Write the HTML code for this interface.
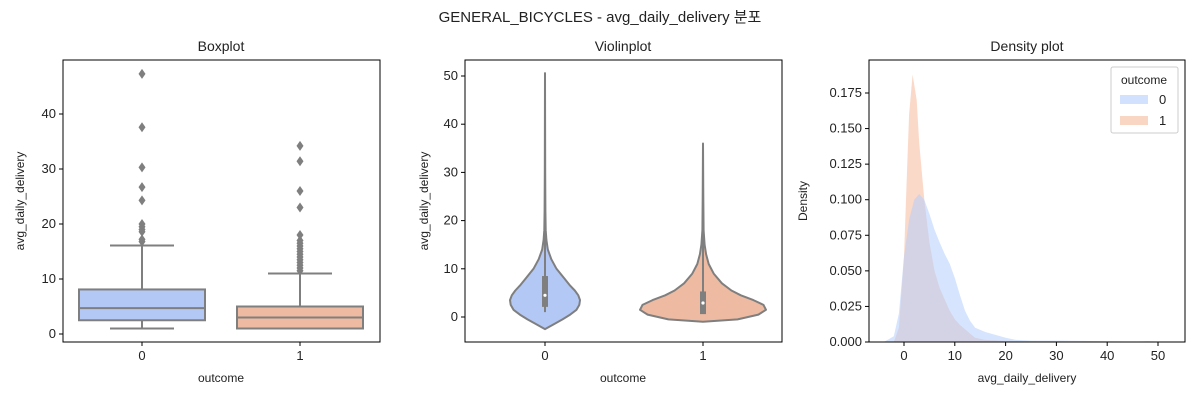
<!DOCTYPE html>
<html><head><meta charset="utf-8"><style>
html,body{margin:0;padding:0;background:#fff;}
svg{display:block;font-family:"Liberation Sans","Noto Sans CJK KR",sans-serif;}
</style></head><body>
<svg id="c" width="1200" height="400" viewBox="0 0 1200 400" xmlns="http://www.w3.org/2000/svg">
<text x="600" y="22" text-anchor="middle" font-size="15" fill="#222">GENERAL_BICYCLES - avg_daily_delivery 분포</text>
</svg>
<script>
// ---- Boxplot data ----
const boxCats = ["0","1"];
const boxQ1 = [2.5, 1.0];
const boxMed = [4.7, 3.0];
const boxQ3 = [8.1, 5.0];
const boxLo = [1.0, 1.0];
const boxHi = [16.1, 11.0];
const outliers0 = [16.8,17.2,18.6,19.0,19.5,20.0,24.3,26.7,30.3,37.6,47.3];
const outliers1 = [11.5,12,12.5,13,13.5,14,14.5,15,15.5,16,16.5,17,18,23,26,31.4,34.2];
const boxYTicks = [0,10,20,30,40];
// ---- Violin data ----
const violinVals0 = [-2.5,-1.5,-0.5,0.5,1.5,2.5,3.5,4.5,5.5,6.5,8,10,12,14,16,18,22,30,40,50.6];
const violinDens0 = [0,0.25,0.5,0.72,0.9,0.98,1.0,0.95,0.85,0.72,0.55,0.33,0.18,0.08,0.04,0.02,0.01,0.005,0.004,0];
const violinVals1 = [-1,-0.5,0.5,1.5,2.5,3.5,4.5,5.5,7,9,11,13,15,18,25,36];
const violinDens1 = [0,0.55,0.88,1.0,0.96,0.8,0.6,0.45,0.3,0.17,0.09,0.05,0.025,0.01,0.005,0];
const violinQ1 = [2.1, 0.6];
const violinQ3 = [8.5, 5.3];
const violinMed = [4.5, 2.9];
const violinLo = [1.0, 1.0];
const violinHi = [16.0, 11.0];
const violinYTicks = [0,10,20,30,40,50];
// ---- Density data ----
const densX0 = [-4,-2,-1,0,1,2,3,4,5,6,7,8,9,10,11,12,13,14,16,18,20,22,25,30,35,40,45,48,52];
const densY0 = [0,0.004,0.02,0.06,0.086,0.1,0.104,0.1,0.09,0.079,0.07,0.062,0.055,0.045,0.033,0.022,0.015,0.01,0.007,0.005,0.003,0.0015,0.001,0.001,0.0008,0.0005,0.0003,0.0005,0];
const densX1 = [-2,-1,0,0.5,1,1.7,2.5,3,4,5,6,7,8,9,10,11,12,13,14,16,20,30,36];
const densY1 = [0,0.01,0.06,0.11,0.16,0.188,0.17,0.14,0.1,0.07,0.05,0.038,0.03,0.022,0.016,0.012,0.009,0.006,0.003,0.0015,0.0008,0.0005,0];
const densXTicks = [0,10,20,30,40,50];
const densYTicks = [0,0.025,0.05,0.075,0.1,0.125,0.15,0.175];

const NS="http://www.w3.org/2000/svg";
const svg=document.getElementById('c');
function mk(tag,attrs,parent){const e=document.createElementNS(NS,tag);for(const k in attrs)e.setAttribute(k,attrs[k]);(parent||svg).appendChild(e);return e;}
function txt(x,y,s,attrs){const e=mk('text',Object.assign({x:x,y:y,'font-size':12,fill:'#222'},attrs||{}));e.textContent=s;return e;}
const GRAY="#7f7f7f";
const BLUE="#b3c8f4", ORANGE="#eebba2";

function axesFrame(x0,y0,x1,y1,name){
  const r=mk('rect',{x:x0,y:y0,width:x1-x0,height:y1-y0,fill:'none',stroke:'#000','stroke-width':1});
  
  
}
function yTick(xl,y,label,name){
  const l=mk('line',{x1:xl-4,x2:xl,y1:y,y2:y,stroke:'#000'});
  
  
  const t=txt(xl-7,y+4,label,{'text-anchor':'end','font-size':13});
  
  
}
function xTick(x,yb,label,name){
  const l=mk('line',{x1:x,x2:x,y1:yb,y2:yb+4,stroke:'#000'});
  
  
  const t=txt(x,yb+18,label,{'text-anchor':'middle','font-size':13});
  
  
}

// ===== Boxplot =====
(function(){
  const X0=63,X1=380,Y0=60,Y1=342;
  const y=v=>334-v*5.5;
  const cx=i=>142+i*158;
  const hw=63;
  const t=txt(221,51,'Boxplot',{'text-anchor':'middle','font-size':14});
  
  boxYTicks.forEach(v=>yTick(X0,y(v),String(v),'boxplot'));
  boxCats.forEach((c,i)=>xTick(cx(i),Y1,c,'boxplot'));
  const xl=txt(221,382,'outcome',{'text-anchor':'middle','font-size':12});
  
  const yl=txt(24,201,'avg_daily_delivery',{'text-anchor':'middle','font-size':12,transform:'rotate(-90 24 201)'});
  
  const outs=[outliers0,outliers1];
  boxCats.forEach((c,i)=>{
    const g=mk('g',{});
    
    
    mk('line',{x1:cx(i),x2:cx(i),y1:y(boxLo[i]),y2:y(boxQ1[i]),stroke:GRAY,'stroke-width':2},g);
    mk('line',{x1:cx(i),x2:cx(i),y1:y(boxQ3[i]),y2:y(boxHi[i]),stroke:GRAY,'stroke-width':2},g);
    mk('line',{x1:cx(i)-32,x2:cx(i)+32,y1:y(boxLo[i]),y2:y(boxLo[i]),stroke:GRAY,'stroke-width':2},g);
    mk('line',{x1:cx(i)-32,x2:cx(i)+32,y1:y(boxHi[i]),y2:y(boxHi[i]),stroke:GRAY,'stroke-width':2},g);
    mk('rect',{x:cx(i)-hw,y:y(boxQ3[i]),width:hw*2,height:y(boxQ1[i])-y(boxQ3[i]),fill:i?ORANGE:BLUE,stroke:GRAY,'stroke-width':2},g);
    mk('line',{x1:cx(i)-hw,x2:cx(i)+hw,y1:y(boxMed[i]),y2:y(boxMed[i]),stroke:GRAY,'stroke-width':2},g);
    outs[i].forEach(v=>{
      const p=mk('path',{d:`M${cx(i)},${y(v)-5} l3.5,5 l-3.5,5 l-3.5,-5 z`,fill:GRAY},g);
      
      
    });
  });
  axesFrame(X0,Y0,X1,Y1,'boxplot');
})();

// ===== Violin =====
(function(){
  const X0=465,X1=782,Y0=60,Y1=342;
  const y=v=>317-v*4.82;
  const cx=i=>545+i*158;
  const maxW=[35,63];
  const t=txt(623,51,'Violinplot',{'text-anchor':'middle','font-size':14});
  
  violinYTicks.forEach(v=>yTick(X0,y(v),String(v),'violinplot'));
  boxCats.forEach((c,i)=>xTick(cx(i),Y1,c,'violinplot'));
  const xl=txt(623,382,'outcome',{'text-anchor':'middle','font-size':12});
  
  const yl=txt(428,201,'avg_daily_delivery',{'text-anchor':'middle','font-size':12,transform:'rotate(-90 428 201)'});
  
  const vals=[violinVals0,violinVals1], dens=[violinDens0,violinDens1];
  boxCats.forEach((c,i)=>{
    const g=mk('g',{});
    
    
    const V=vals[i],D=dens[i];
    let d='';
    V.forEach((v,k)=>{d+=(k?'L':'M')+(cx(i)+D[k]*maxW[i]).toFixed(1)+','+y(v).toFixed(1);});
    for(let k=V.length-1;k>=0;k--)d+='L'+(cx(i)-D[k]*maxW[i]).toFixed(1)+','+y(V[k]).toFixed(1);
    d+='Z';
    mk('path',{d:d,fill:i?ORANGE:BLUE,stroke:GRAY,'stroke-width':2,'stroke-linejoin':'round'},g);
    mk('line',{x1:cx(i),x2:cx(i),y1:y(V[0]>violinLo[i]?V[0]:violinLo[i]),y2:y(V[V.length-1]),stroke:GRAY,'stroke-width':2},g);
    mk('rect',{x:cx(i)-3,y:y(violinQ3[i]),width:6,height:y(violinQ1[i])-y(violinQ3[i]),fill:GRAY},g);
    mk('circle',{cx:cx(i),cy:y(violinMed[i]),r:1.6,fill:'#fff'},g);
  });
  axesFrame(X0,Y0,X1,Y1,'violinplot');
})();

// ===== Density =====
(function(){
  const X0=869,X1=1185,Y0=60,Y1=342;
  const x=v=>904+v*5.08;
  const y=v=>342-v*1422.9;
  const t=txt(1027,51,'Density plot',{'text-anchor':'middle','font-size':14});
  
  densYTicks.forEach(v=>yTick(X0,y(v),v.toFixed(3),'density'));
  densXTicks.forEach(v=>xTick(x(v),Y1,String(v),'density'));
  const xl=txt(1027,382,'avg_daily_delivery',{'text-anchor':'middle','font-size':12});
  
  const yl=txt(807,201,'Density',{'text-anchor':'middle','font-size':12,transform:'rotate(-90 807 201)'});
  
  const cl=mk('clipPath',{id:'dclip'});mk('rect',{x:X0,y:Y0,width:X1-X0,height:Y1-Y0},cl);
  function area(X,Y,color,name){
    let d='M'+x(X[0]).toFixed(1)+','+y(0);
    X.forEach((v,k)=>{d+='L'+x(v).toFixed(1)+','+y(Y[k]).toFixed(1);});
    d+='L'+x(X[X.length-1]).toFixed(1)+','+y(0)+'Z';
    const p=mk('path',{d:d,fill:color,'fill-opacity':0.55,stroke:'none','clip-path':'url(#dclip)'});
    
    
  }
  area(densX1,densY1,'#f5b99c','density-area-1');
  area(densX0,densY0,'#b4cdfb','density-area-0');
  axesFrame(X0,Y0,X1,Y1,'density');
  const lg=mk('g',{});
  
  
  mk('rect',{x:1111,y:67,width:67,height:66,rx:2,fill:'#fff','fill-opacity':0.8,stroke:'#ccc'},lg);
  const lt=txt(1144,84,'outcome',{'text-anchor':'middle','font-size':12},);lg.appendChild(lt);
  const e0=mk('g',{},lg);
  mk('rect',{x:1120,y:95,width:28,height:9,fill:'#b4cdfb','fill-opacity':0.6},e0);
  e0.appendChild(txt(1159,104,'0',{'font-size':13}));
  const e1=mk('g',{},lg);
  mk('rect',{x:1120,y:116,width:28,height:9,fill:'#f5b99c','fill-opacity':0.6},e1);
  e1.appendChild(txt(1159,125,'1',{'font-size':13}));
})();
</script>
</body></html>
